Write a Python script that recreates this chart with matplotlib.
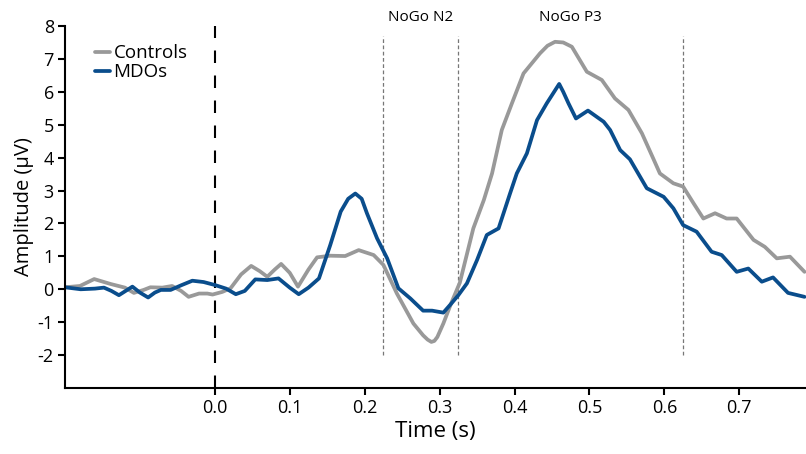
import matplotlib
matplotlib.use("Agg")
import matplotlib.pyplot as plt

plt.rcParams['font.family'] = ['Open Sans', 'DejaVu Sans']
plt.rcParams['axes.unicode_minus'] = False

# ERP waveforms (time in s, amplitude in uV)
t_ctrl = [-0.2, -0.18, -0.161, -0.139, -0.12, -0.108, -0.095, -0.086, -0.07, -0.057,
          -0.045, -0.035, -0.021, -0.01, -0.003, 0.01, 0.021, 0.035, 0.0485, 0.06,
          0.07, 0.08, 0.0885, 0.1, 0.111, 0.125, 0.1365, 0.154, 0.174, 0.192,
          0.212, 0.225, 0.243, 0.265, 0.278, 0.284, 0.289, 0.293, 0.297, 0.305,
          0.315, 0.327, 0.345, 0.359, 0.37, 0.383, 0.3965, 0.412, 0.434, 0.444,
          0.454, 0.465, 0.4765, 0.4965, 0.5165, 0.534, 0.552, 0.57, 0.585, 0.594,
          0.612, 0.625, 0.639, 0.652, 0.6676, 0.683, 0.6965, 0.719, 0.734, 0.75,
          0.7676, 0.787]
v_ctrl = [0.06, 0.1, 0.31, 0.16, 0.05, -0.11, -0.02, 0.06, 0.05, 0.1,
          -0.05, -0.23, -0.13, -0.13, -0.16, -0.08, 0.03, 0.45, 0.71, 0.55,
          0.38, 0.6, 0.77, 0.5, 0.08, 0.6, 0.97, 1.02, 1.01, 1.19,
          1.04, 0.74, -0.13, -1.04, -1.4, -1.53, -1.6, -1.57, -1.45, -1.04,
          -0.45, 0.2, 1.85, 2.71, 3.52, 4.84, 5.65, 6.56, 7.17, 7.4,
          7.52, 7.5, 7.37, 6.61, 6.36, 5.8, 5.45, 4.74, 3.98, 3.52,
          3.22, 3.12, 2.61, 2.15, 2.31, 2.15, 2.15, 1.5, 1.29, 0.94,
          0.99, 0.53]

t_mdo = [-0.2, -0.179, -0.16, -0.148, -0.138, -0.128, -0.11, -0.1, -0.089, -0.08,
         -0.072, -0.059, -0.045, -0.03, -0.015, 0.0, 0.015, 0.028, 0.04, 0.054,
         0.07, 0.085, 0.1, 0.112, 0.125, 0.139, 0.154, 0.168, 0.178, 0.1875,
         0.196, 0.203, 0.2165, 0.23, 0.245, 0.261, 0.278, 0.29, 0.305, 0.315,
         0.325, 0.3365, 0.35, 0.363, 0.3787, 0.394, 0.403, 0.4165, 0.43, 0.443,
         0.4596, 0.465, 0.472, 0.482, 0.498, 0.519, 0.5276, 0.541, 0.554, 0.5765,
         0.599, 0.612, 0.625, 0.643, 0.663, 0.6765, 0.6965, 0.712, 0.73, 0.745,
         0.765, 0.787]
v_mdo = [0.06, 0.0, 0.02, 0.05, -0.05, -0.18, 0.08, -0.1, -0.25, -0.1,
         -0.02, -0.02, 0.12, 0.26, 0.22, 0.13, 0.02, -0.15, -0.05, 0.3,
         0.28, 0.33, 0.05, -0.15, 0.05, 0.33, 1.34, 2.36, 2.75, 2.91,
         2.75, 2.31, 1.55, 0.94, 0.03, -0.28, -0.65, -0.65, -0.71, -0.45,
         -0.18, 0.18, 0.89, 1.65, 1.85, 2.91, 3.52, 4.13, 5.14, 5.65,
         6.24, 6.0, 5.65, 5.19, 5.43, 5.09, 4.84, 4.23, 3.95, 3.07,
         2.81, 2.46, 1.95, 1.75, 1.14, 1.04, 0.53, 0.63, 0.23, 0.36,
         -0.11, -0.23]

windows = [(0.225, 0.325, "NoGo N2"), (0.325, 0.625, "NoGo P3")]
label_x = [0.275, 0.475]
x_ticks = [0.0, 0.1, 0.2, 0.3, 0.4, 0.5, 0.6, 0.7]
y_ticks = list(range(-2, 9))

fig = plt.figure(figsize=(8.06, 4.54), dpi=100)
ax = fig.add_axes([0.0806, 0.1454, 0.9194, 0.7973])

ax.plot(t_ctrl, v_ctrl, color='#999999', lw=2.7, solid_joinstyle='round',
        solid_capstyle='round', label='Controls')
ax.plot(t_mdo, v_mdo, color='#0a4d8c', lw=2.7, solid_joinstyle='round',
        solid_capstyle='round', label='MDOs')

ax.plot([0, 0], [-3, 8], color='black', lw=1.5, dashes=(6, 6), zorder=1)
edges = sorted(set([w[0] for w in windows] + [w[1] for w in windows]))
ax.vlines(edges, -2, 7.7, colors='#777777', lw=0.9, linestyles=(0, (3, 2)), zorder=1)
for x, (a, b, name) in zip(label_x, windows):
    ax.text(x, 8.27, name, ha='center', va='center', fontsize=11)

ax.set_xlim(-0.2, 0.789)
ax.set_ylim(-3, 8)
ax.set_xticks(x_ticks)
ax.set_xticklabels(["%.1f" % x for x in x_ticks])
ax.set_yticks(y_ticks)
ax.tick_params(labelsize=13, width=1.5, length=5, pad=3)
for s in ['top', 'right']:
    ax.spines[s].set_visible(False)
for s in ['left', 'bottom']:
    ax.spines[s].set_linewidth(1.5)

ax.set_xlabel('Time (s)', fontsize=16, labelpad=3)
ax.set_ylabel('Amplitude (μV)', fontsize=14.5, labelpad=3)

ax.legend(loc='upper left', bbox_to_anchor=(0.03, 0.97), frameon=False, fontsize=13.5,
          handlelength=0.8, handletextpad=0.2, labelspacing=0.05, borderaxespad=0)

fig.savefig('out.png', dpi=100)
